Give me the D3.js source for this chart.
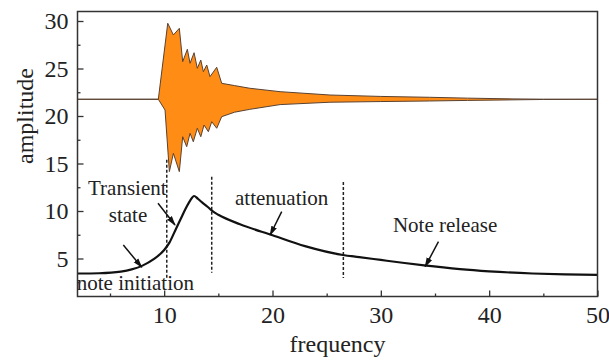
<!DOCTYPE html>
<html>
<head>
<meta charset="utf-8">
<script src="https://cdn.jsdelivr.net/npm/d3@7"></script>
<style>
  body { margin: 0; background: #fff; }
  svg { display: block; }
  svg text { font-family: "Liberation Serif", "Times New Roman", serif; }
</style>
</head>
<body>
<svg id="chart" width="609" height="361"></svg>
<script>
// orange signal envelope (upper / lower edges)
const upperFreq = [2, 9.46, 10.33, 10.85, 11.40, 11.71, 12.14, 12.39, 12.76, 13.06, 13.38, 13.62, 13.93, 14.23, 14.85, 15.31, 16.5, 17.9, 20.7, 25.3, 30, 34.5, 38, 42.2, 45, 50];
const upperAmp  = [21.76, 21.76, 29.76, 28.53, 29.23, 25.72, 27.02, 25.55, 26.66, 25.02, 25.89, 24.66, 25.37, 24.14, 25.13, 23.44, 23.2, 22.92, 22.56, 22.21, 22.06, 21.97, 21.88, 21.8, 21.77, 21.76];
const lowerFreq = [2, 9.46, 10.08, 10.48, 10.85, 11.40, 11.71, 12.08, 12.39, 12.69, 13.06, 13.38, 13.68, 14.08, 14.39, 14.85, 15.31, 16.5, 17.9, 20.7, 25.3, 30, 34.5, 38, 42.2, 45, 50];
const lowerAmp  = [21.76, 21.76, 20.63, 14.14, 16.07, 14.14, 17.82, 16.77, 18.18, 17.29, 18.71, 17.82, 19.05, 18.35, 19.40, 18.71, 19.93, 20.4, 20.7, 21.2, 21.45, 21.52, 21.58, 21.64, 21.7, 21.74, 21.76];

// black response curve
const curveFreq = [2, 4, 6, 7, 8, 9, 10, 10.5, 11, 11.5, 12, 12.4, 12.76, 13.1, 13.5, 14, 14.5, 15, 17, 20, 23, 26.5, 28, 30, 32, 34, 37.3, 40, 44, 47, 50];
const curveAmp  = [3.42, 3.45, 3.62, 3.85, 4.25, 4.9, 5.9, 6.7, 7.9, 9.1, 10.3, 11.1, 11.58, 11.3, 10.9, 10.45, 9.95, 9.6, 8.6, 7.45, 6.3, 5.37, 5.15, 4.85, 4.55, 4.27, 3.88, 3.65, 3.42, 3.32, 3.28];

// dashed phase separators
const phaseFreq = [10.24, 14.39, 26.54];
const phaseTop  = [15.4, 13.6, 13.05];
const phaseBot  = [2.95, 3.5, 2.95];

// annotations
const labelText = ["Transient", "state", "attenuation", "Note release", "note initiation"];
const labelFreq = [6.6, 6.66, 20.85, 35.93, 1.93];
const labelAmp  = [11.68, 8.84, 10.63, 7.82, 1.68];
const arrowFrom = [[9.43, 10.82], [6.23, 6.42], [20.85, 9.93], [35.32, 6.77]];
const arrowTo   = [[11.0, 8.53], [7.93, 4.07], [19.78, 7.47], [34.09, 4.14]];

const xMajor = [10, 20, 30, 40, 50];
const xMinor = [5, 15, 25, 35, 45];
const yMajor = [5, 10, 15, 20, 25, 30];
const yMinor = [2.5, 7.5, 12.5, 17.5, 22.5, 27.5];

const svg = d3.select("#chart");
const x = d3.scaleLinear().domain([2, 50]).range([77.5, 597.5]);
const y = d3.scaleLinear().domain([1, 31]).range([296.5, 11.5]);

svg.append("defs").append("marker")
  .attr("id", "head")
  .attr("viewBox", "0 0 10 10")
  .attr("refX", 9).attr("refY", 5)
  .attr("markerWidth", 10).attr("markerHeight", 10)
  .attr("markerUnits", "userSpaceOnUse")
  .attr("orient", "auto")
  .append("path").attr("d", "M0,2 L10,5 L0,8 Z").attr("fill", "#111");

// orange signal
const sigPts = upperFreq.map((f, i) => [f, upperAmp[i]])
  .concat(lowerFreq.map((f, i) => [f, lowerAmp[i]]).reverse());
svg.append("path")
  .datum(sigPts)
  .attr("d", d3.line().x(d => x(d[0])).y(d => y(d[1])))
  .attr("fill", "#ff8c14")
  .attr("stroke", "#5a4232")
  .attr("stroke-width", 1)
  .attr("stroke-linejoin", "round");

// dashed lines
svg.selectAll(".phase")
  .data(phaseFreq)
  .enter().append("line")
  .attr("x1", d => x(d)).attr("x2", d => x(d))
  .attr("y1", (d, i) => y(phaseTop[i]))
  .attr("y2", (d, i) => y(phaseBot[i]))
  .attr("stroke", "#222")
  .attr("stroke-width", 1.5)
  .attr("stroke-dasharray", "3,2");

// main curve
svg.append("path")
  .datum(curveFreq.map((f, i) => [f, curveAmp[i]]))
  .attr("d", d3.line().x(d => x(d[0])).y(d => y(d[1])).curve(d3.curveMonotoneX))
  .attr("fill", "none")
  .attr("stroke", "#111")
  .attr("stroke-width", 2.2);

// arrows
svg.selectAll(".arrow")
  .data(arrowFrom)
  .enter().append("line")
  .attr("x1", d => x(d[0])).attr("y1", d => y(d[1]))
  .attr("x2", (d, i) => x(arrowTo[i][0])).attr("y2", (d, i) => y(arrowTo[i][1]))
  .attr("stroke", "#111")
  .attr("stroke-width", 1.5)
  .attr("marker-end", "url(#head)");

// annotation texts
svg.selectAll(".lbl")
  .data(labelText)
  .enter().append("text")
  .attr("x", (d, i) => x(labelFreq[i]))
  .attr("y", (d, i) => y(labelAmp[i]))
  .attr("text-anchor", (d, i) => i === 4 ? "start" : "middle")
  .attr("font-size", 21)
  .attr("fill", "#222")
  .text(d => d);

// axes
svg.append("g")
  .attr("transform", "translate(0,296.5)")
  .call(d3.axisBottom(x).tickValues(xMajor).tickSize(-6).tickPadding(9).tickFormat(d3.format("d")));
svg.append("g")
  .attr("transform", "translate(0,296.5)")
  .call(d3.axisBottom(x).tickValues(xMinor).tickSize(-3).tickFormat(""));
svg.append("g")
  .attr("transform", "translate(77.5,0)")
  .call(d3.axisLeft(y).tickValues(yMajor).tickSize(-6).tickPadding(9).tickFormat(d3.format("d")));
svg.append("g")
  .attr("transform", "translate(77.5,0)")
  .call(d3.axisLeft(y).tickValues(yMinor).tickSize(-3).tickFormat(""));

svg.selectAll(".domain").remove();
svg.selectAll(".tick line").attr("stroke", "#333").attr("stroke-width", 1.3);
svg.selectAll("g").attr("font-family", null).attr("font-size", null);
svg.selectAll(".tick text")
  .style("font-family", "'Liberation Serif', 'Times New Roman', serif")
  .style("font-size", "24px")
  .attr("fill", "#222");

// frame
svg.append("rect")
  .attr("x", x(2)).attr("y", y(31))
  .attr("width", x(50) - x(2)).attr("height", y(1) - y(31))
  .attr("fill", "none")
  .attr("stroke", "#333")
  .attr("stroke-width", 1.5);

// axis titles
svg.append("text")
  .attr("x", x(26)).attr("y", 352)
  .attr("text-anchor", "middle")
  .attr("font-size", 24)
  .attr("fill", "#222")
  .text("frequency");
svg.append("text")
  .attr("transform", "translate(33," + y(20) + ") rotate(-90)")
  .attr("text-anchor", "middle")
  .attr("font-size", 24)
  .attr("fill", "#222")
  .text("amplitude");
</script>
</body>
</html>
